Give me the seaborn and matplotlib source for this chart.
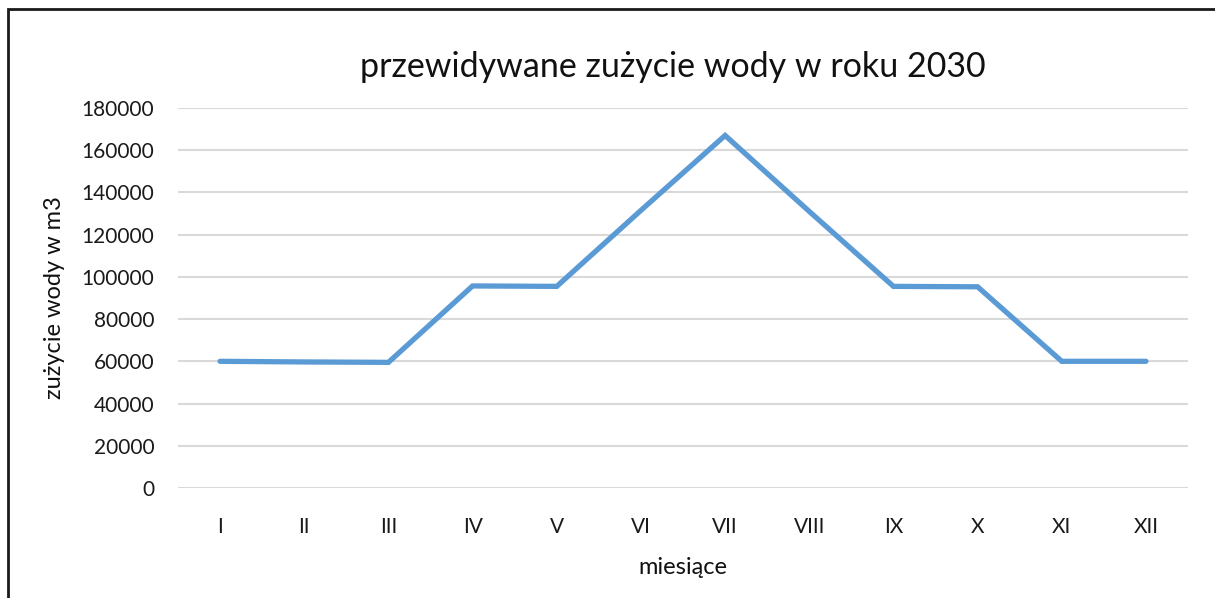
import seaborn as sns
import pandas as pd
import matplotlib.pyplot as plt
from matplotlib.patches import Rectangle

months = ['I', 'II', 'III', 'IV', 'V', 'VI', 'VII', 'VIII', 'IX', 'X', 'XI', 'XII']
usage = [60000, 59700, 59500, 95700, 95500, 131500, 167000, 131000, 95500, 95300, 60000, 60000]

df = pd.DataFrame({'miesiace': months, 'zuzycie': usage})

sns.set_style('white')
plt.rcParams['font.family'] = ['Lato', 'DejaVu Sans']

fig = plt.figure(figsize=(12.15, 5.98), dpi=100)
ax = fig.add_axes([0.1465, 0.184, 0.8313, 0.6354])

sns.lineplot(data=df, x='miesiace', y='zuzycie', sort=False, color='#5B9BD5',
             linewidth=3.8, ax=ax, solid_joinstyle='miter', solid_capstyle='round')

ax.set_xlim(-0.5, 11.5)
ax.set_ylim(0, 180000)
ax.set_yticks(range(0, 180001, 20000))
ax.yaxis.grid(True, color='#D9D9D9', linewidth=1.5)
ax.set_axisbelow(True)
sns.despine(ax=ax, left=True, bottom=True)
ax.tick_params(axis='y', length=0, pad=17, labelsize=15, labelcolor='#1a1a1a')
ax.tick_params(axis='x', length=0, pad=21, labelsize=15, labelcolor='#1a1a1a')

ax.set_title('przewidywane zużycie wody w roku 2030', fontsize=24.5, color='#111111',
             pad=22, x=0.49)
ax.set_xlabel('miesiące', fontsize=17, color='#111111', labelpad=14)
ax.set_ylabel('zużycie wody w m3', fontsize=17, color='#111111', labelpad=12)

# outer frame of the chart area
fig.patches.append(Rectangle((8 / 1215, -0.1), 1.2, 1 - 9 / 598 + 0.1,
                             transform=fig.transFigure, fill=False,
                             edgecolor='#1a1a1a', linewidth=2))

fig.savefig('out.png', dpi=100)
